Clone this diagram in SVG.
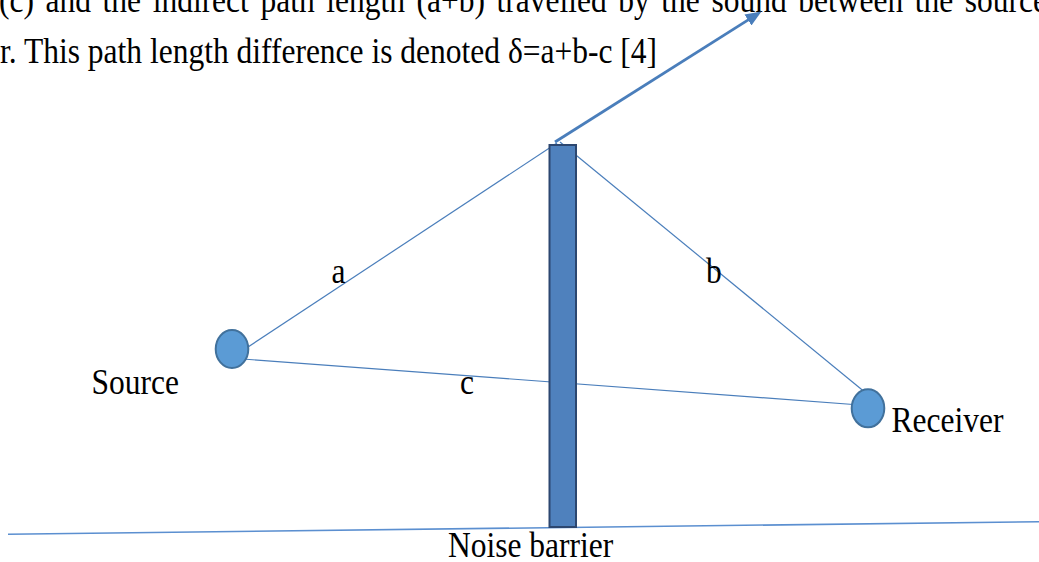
<svg xmlns="http://www.w3.org/2000/svg" width="1039" height="562" viewBox="0 0 1039 562">
<style>
text{font-family:"Liberation Serif","Times New Roman",serif;font-size:31.5px;fill:#000}
.ln{stroke:#4A7EBB;stroke-width:1.2;fill:none}
.arrow{stroke:#4A7EBB;stroke-width:2.8;fill:none}
.ground{stroke:#5B8FD0;stroke-width:1.6;fill:none}
.node{fill:#5B9BD5;stroke:#41719C;stroke-width:2}
.barrier{fill:#4F81BD;stroke:#2C4770;stroke-width:2}
</style>
<defs>
<marker id="ah" markerUnits="userSpaceOnUse" markerWidth="16" markerHeight="13" viewBox="0 0 16 13" refX="12" refY="6.5" orient="auto">
<path d="M0,0 L16,6.5 L0,13 z" fill="#4A7EBB"/>
</marker>
</defs>
<g id="caption">
<text transform="translate(-1,12) scale(1,1.16)" word-spacing="3.7">(c) and the indirect path length (a+b) travelled by the sound between the source</text>
<text transform="translate(0,63) scale(1,1.16)">r. This path length difference is denoted δ=a+b-c [4]</text>
</g>
<g id="connectors">
<line class="ground" x1="8" y1="534.3" x2="1039" y2="521.7"/>
<line class="ln" x1="223" y1="363.5" x2="557" y2="143"/>
<line class="ln" x1="560" y1="142" x2="872" y2="398"/>
<line class="ln" x1="236" y1="358.5" x2="860" y2="405"/>
<line class="arrow" x1="555" y1="142" x2="758.1" y2="13.6" marker-end="url(#ah)"/>
</g>
<g id="barrier">
<rect class="barrier" x="549.5" y="145" width="26.5" height="382"/>
<text transform="translate(448,557) scale(1,1.16)">Noise barrier</text>
</g>
<g id="source">
<ellipse class="node" cx="232" cy="349" rx="16.3" ry="19"/>
<text transform="translate(91.5,394.3) scale(1,1.16)">Source</text>
</g>
<g id="receiver">
<ellipse class="node" cx="868" cy="408.3" rx="16.3" ry="19"/>
<text transform="translate(891.5,431.7) scale(1,1.16)">Receiver</text>
</g>
<g id="labels">
<text transform="translate(331.5,283.3) scale(1,1.16)">a</text>
<text transform="translate(706,283.3) scale(1,1.16)">b</text>
<text transform="translate(460,394) scale(1,1.16)">c</text>
</g>
</svg>
